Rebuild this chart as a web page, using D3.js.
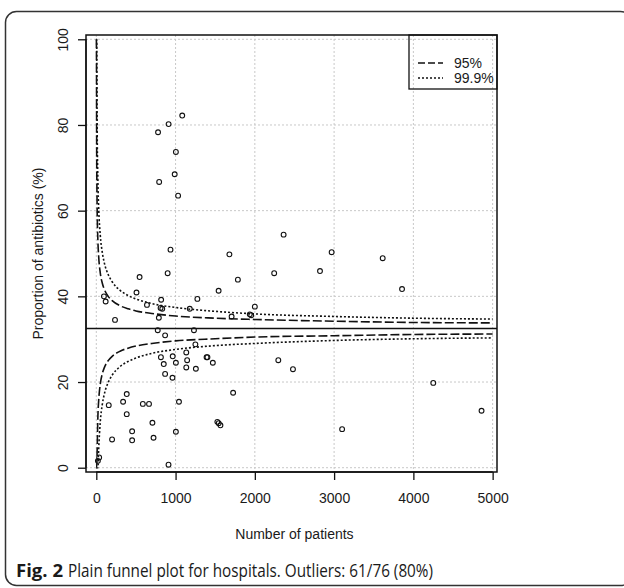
<!DOCTYPE html>
<html>
<head>
<meta charset="utf-8">
<script src="https://cdn.jsdelivr.net/npm/d3@7"></script>
<style>
  html, body { margin: 0; padding: 0; background: #fff; }
  svg { display: block; }
</style>
</head>
<body>
<svg id="chart" width="624" height="588"></svg>
<script>
// ---- data ----
const patients = [1084, 912, 779, 1004, 989, 793, 1032,
  96, 118, 236, 507, 546, 639, 818, 811, 832, 789, 936, 900, 1179, 1275, 1543, 1679, 1786, 1707, 1936, 1954, 2000, 775, 868, 1232, 1250,
  2363, 2244, 2822, 2969, 3613, 3857,
  2296, 2481, 4251, 3101, 4860,
  36, 20, 157, 199, 338, 384, 384, 452, 452, 587, 665, 708, 722, 911, 1004, 1043, 815, 851, 868, 964, 961, 1004, 1135, 1146, 1135, 1256, 1391, 1402, 1470, 1726, 1527, 1544, 1566];
const proportion = [82.2, 80.2, 78.3, 73.7, 68.5, 66.7, 63.5,
  40.0, 38.8, 34.5, 40.9, 44.5, 38.0, 39.2, 37.3, 37.1, 35.0, 50.9, 45.4, 37.1, 39.4, 41.3, 49.8, 43.9, 35.3, 35.8, 35.6, 37.6, 32.1, 30.9, 32.1, 28.8,
  54.4, 45.4, 45.9, 50.3, 48.9, 41.7,
  25.1, 23.0, 19.8, 9.0, 13.3,
  2.4, 1.6, 14.6, 6.6, 15.4, 17.2, 12.5, 8.5, 6.4, 14.9, 14.9, 10.5, 7.0, 0.7, 8.4, 15.4, 25.8, 24.2, 21.9, 26.0, 21.0, 24.5, 26.9, 25.1, 23.4, 23.1, 25.8, 25.8, 24.5, 17.5, 10.7, 10.4, 9.9];
const overall = 32.5;
const limitN =    [1, 2, 5, 10, 20, 30, 50, 75, 100, 150, 200, 300, 400, 500, 700, 1000, 1500, 2000, 3000, 4000, 5000];
const upper95 =   [100, 97.4, 73.6, 61.5, 53.0, 49.3, 45.5, 43.1, 41.7, 40.0, 39.0, 37.8, 37.1, 36.6, 36.0, 35.4, 34.9, 34.6, 34.2, 33.9, 33.8];
const lower95 =   [0, 0, 0, 3.5, 12.0, 15.7, 19.5, 21.9, 23.3, 25.0, 26.0, 27.2, 27.9, 28.4, 29.0, 29.6, 30.1, 30.5, 30.8, 31.1, 31.2];
const upper999 =  [100, 100, 100, 81.2, 66.9, 60.6, 54.3, 50.3, 47.9, 45.1, 43.4, 41.4, 40.2, 39.4, 38.3, 37.4, 36.5, 35.9, 35.3, 34.9, 34.7];
const lower999 =  [0, 0, 0, 0, 0, 4.4, 10.7, 14.7, 17.1, 19.9, 21.6, 23.6, 24.8, 25.6, 26.7, 27.6, 28.5, 29.0, 29.7, 30.1, 30.3];
const xTicks = [0, 1000, 2000, 3000, 4000, 5000];
const yTicks = [0, 20, 40, 60, 80, 100];
const legendLabels = ["95%", "99.9%"];

// ---- layout ----
const svg = d3.select("#chart");
const L = 86, R = 497, T = 35, B = 472;
const x = d3.scaleLinear().domain([-130, 5055]).range([L, R]);
const y = d3.scaleLinear().domain([-1, 101]).range([B, T]);
const ink = "#111";
const axisFont = "'Liberation Sans', Arial, sans-serif";
const capFont = "'Open Sans', 'Noto Sans', sans-serif";

// outer frame
svg.append("rect").attr("x", 5.5).attr("y", 11.5).attr("width", 626).attr("height", 574)
  .attr("rx", 11).attr("fill", "none").attr("stroke", "#333").attr("stroke-width", 1.5);

svg.append("defs").append("clipPath").attr("id", "plotclip")
  .append("rect").attr("x", L).attr("y", T).attr("width", R - L).attr("height", B - T);

// grid
const grid = svg.append("g").attr("stroke", "#c8c8c8").attr("stroke-width", 1).attr("stroke-dasharray", "2,2");
grid.selectAll(".gx").data(xTicks).join("line")
  .attr("x1", d => x(d)).attr("x2", d => x(d)).attr("y1", T).attr("y2", B);
grid.selectAll(".gy").data(yTicks).join("line")
  .attr("y1", d => y(d)).attr("y2", d => y(d)).attr("x1", L).attr("x2", R);

// axes
const xAxis = svg.append("g").attr("transform", `translate(0,${B})`)
  .call(d3.axisBottom(x).tickValues(xTicks).tickSize(8).tickPadding(13).tickFormat(d3.format("d")));
const yAxis = svg.append("g").attr("transform", `translate(${L},0)`)
  .call(d3.axisLeft(y).tickValues(yTicks).tickSize(8).tickPadding(14).tickFormat(d3.format("d")));
[xAxis, yAxis].forEach(g => {
  g.select(".domain").attr("stroke", ink).attr("stroke-width", 1.3);
  g.selectAll(".tick line").attr("stroke", ink).attr("stroke-width", 1.3);
  g.selectAll("text").attr("fill", "#1a1a1a").style("font-family", axisFont).style("font-size", "14px");
});
xAxis.select(".domain").attr("d", `M${x(0)},0V0H${x(5000)}V0`);
yAxis.select(".domain").attr("d", `M0,${y(0)}H0V${y(100)}H0`);
yAxis.selectAll(".tick text")
  .attr("text-anchor", "middle").attr("dy", null)
  .attr("transform", "translate(-18,0) rotate(-90)")
  .attr("x", 0).attr("y", 0);

// box
svg.append("rect").attr("x", L).attr("y", T).attr("width", R - L).attr("height", B - T)
  .attr("fill", "none").attr("stroke", ink).attr("stroke-width", 1.5);

// axis titles
svg.append("text").attr("x", x(2500)).attr("y", 539).attr("text-anchor", "middle")
  .style("font-family", axisFont).style("font-size", "14px").attr("fill", "#1a1a1a")
  .text("Number of patients");
svg.append("text").attr("transform", `translate(43,${(T + B) / 2}) rotate(-90)`).attr("text-anchor", "middle")
  .style("font-family", axisFont).style("font-size", "14px").attr("fill", "#1a1a1a")
  .text("Proportion of antibiotics (%)");

// funnel
const plot = svg.append("g").attr("clip-path", "url(#plotclip)");
plot.append("line").attr("x1", L).attr("x2", R).attr("y1", y(overall)).attr("y2", y(overall))
  .attr("stroke", ink).attr("stroke-width", 1.4);
const line = d3.line().x(d => x(d[0])).y(d => y(d[1])).curve(d3.curveMonotoneX);
const funnel = [
  { vals: upper95, dash: "9,3" }, { vals: lower95, dash: "9,3" },
  { vals: upper999, dash: "2,2" }, { vals: lower999, dash: "2,2" }
];
funnel.forEach(f => {
  plot.append("path").attr("d", line(limitN.map((n, i) => [n, f.vals[i]])))
    .attr("fill", "none").attr("stroke", ink).attr("stroke-width", 1.6).attr("stroke-dasharray", f.dash);
});

// points
plot.selectAll("circle.pt").data(patients.map((n, i) => [n, proportion[i]])).join("circle")
  .attr("class", "pt").attr("cx", d => x(d[0])).attr("cy", d => y(d[1])).attr("r", 2.4)
  .attr("fill", "none").attr("stroke", ink).attr("stroke-width", 1.1);

// legend
const lg = svg.append("g");
lg.append("rect").attr("x", 409).attr("y", T).attr("width", R - 409).attr("height", 54)
  .attr("fill", "none").attr("stroke", ink).attr("stroke-width", 1.3);
legendLabels.forEach((lab, i) => {
  const ly = 63 + i * 15;
  lg.append("line").attr("x1", 418).attr("x2", 443).attr("y1", ly).attr("y2", ly)
    .attr("stroke", ink).attr("stroke-width", 1.5).attr("stroke-dasharray", i === 0 ? "7,3" : "2,2");
  lg.append("text").attr("x", 454).attr("y", ly + 5).text(lab)
    .style("font-family", axisFont).style("font-size", "14px").attr("fill", "#1a1a1a");
});

// caption (two separate texts so they cannot overlap)
svg.append("text").attr("x", 16).attr("y", 577)
  .style("font-family", capFont).style("font-size", "18px").style("font-weight", "bold").attr("fill", "#1a1a1a")
  .attr("textLength", 47).attr("lengthAdjust", "spacingAndGlyphs")
  .text("Fig. 2");
svg.append("text").attr("x", 68).attr("y", 577)
  .style("font-family", capFont).style("font-size", "18px").attr("fill", "#1a1a1a")
  .attr("textLength", 365).attr("lengthAdjust", "spacingAndGlyphs")
  .text("Plain funnel plot for hospitals. Outliers: 61/76 (80%)");
</script>
</body>
</html>
